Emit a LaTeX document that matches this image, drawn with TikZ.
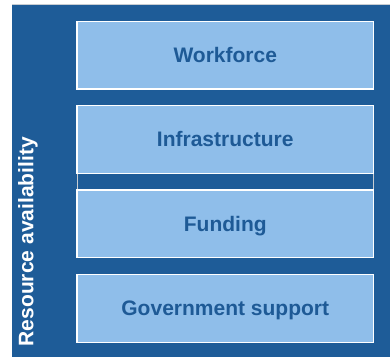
\documentclass[tikz,border=0pt]{standalone}
\usepackage{fontspec}
\setmainfont{Liberation Sans}
\definecolor{darkblue}{RGB}{30,92,152}
\definecolor{lightblue}{RGB}{143,190,234}
\definecolor{textblue}{RGB}{30,90,150}
\definecolor{edgegray}{RGB}{200,205,210}
\tikzset{
  itembox/.style={draw=white, line width=1.1pt, fill=lightblue, rectangle,
    minimum width=296.5pt, minimum height=67.7pt, inner sep=0pt,
    text height=15pt, text depth=0pt, text=textblue,
    font=\bfseries\fontsize{21}{25}\selectfont},
  sidetitle/.style={text=white, rotate=90, anchor=base, inner sep=0pt,
    font=\bfseries\fontsize{21}{25}\selectfont},
}
\begin{document}
\begin{tikzpicture}[x=1pt,y=-1pt]
\useasboundingbox (0,0) rectangle (390,357);
\fill[white] (0,0) rectangle (390,357);
\fill[darkblue] (12.3,5) rectangle (390,357);
\draw[edgegray, line width=0.8pt] (12.3,4.6) -- (390,4.6);
\node[sidetitle] (title) at (33.3,241.7) {Resource availability};
\draw[edgegray, line width=0.8pt, fill=darkblue] (77,173) rectangle (373.5,190);
\node[itembox] (workforce) at (225.25,55.15) {Workforce};
\node[itembox] (infra) at (225.25,139.35) {Infrastructure};
\node[itembox] (funding) at (225.25,223.85) {Funding};
\node[itembox] (gov) at (225.25,308.3) {Government support};
\end{tikzpicture}
\end{document}
